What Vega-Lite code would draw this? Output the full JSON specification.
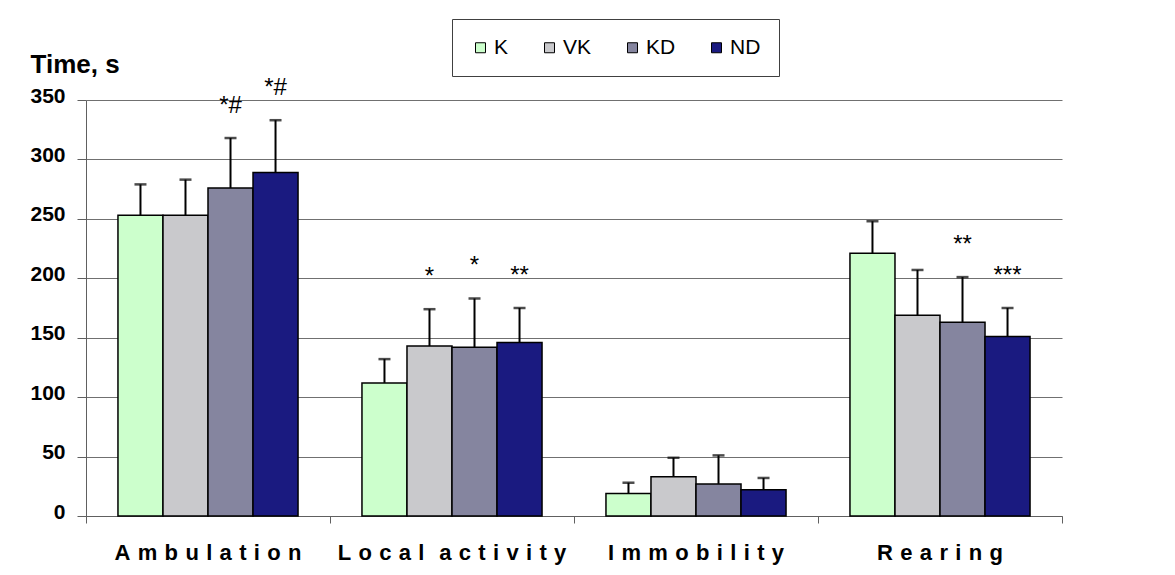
{
  "$schema": "https://vega.github.io/schema/vega-lite/v6.json",
  "autosize": {"type": "none"},
  "padding": {"left": 86, "top": 100, "right": 113, "bottom": 59},
  "width": 976,
  "height": 416,
  "background": "white",
  "config": {
    "view": {"stroke": null},
    "font": "Arial, Liberation Sans, sans-serif"
  },
  "data": {
    "values": [
      {"category": "Ambulation", "group": "K", "value": 253, "upper": 279, "sig": ""},
      {"category": "Ambulation", "group": "VK", "value": 253, "upper": 283, "sig": ""},
      {"category": "Ambulation", "group": "KD", "value": 276, "upper": 318, "sig": "*#"},
      {"category": "Ambulation", "group": "ND", "value": 289, "upper": 333, "sig": "*#"},
      {"category": "Local activity", "group": "K", "value": 112, "upper": 132, "sig": ""},
      {"category": "Local activity", "group": "VK", "value": 143, "upper": 174, "sig": "*"},
      {"category": "Local activity", "group": "KD", "value": 142, "upper": 183, "sig": "*"},
      {"category": "Local activity", "group": "ND", "value": 146, "upper": 175, "sig": "**"},
      {"category": "Immobility", "group": "K", "value": 19, "upper": 28, "sig": ""},
      {"category": "Immobility", "group": "VK", "value": 33, "upper": 49, "sig": ""},
      {"category": "Immobility", "group": "KD", "value": 27, "upper": 51, "sig": ""},
      {"category": "Immobility", "group": "ND", "value": 22, "upper": 32, "sig": ""},
      {"category": "Rearing", "group": "K", "value": 221, "upper": 248, "sig": ""},
      {"category": "Rearing", "group": "VK", "value": 169, "upper": 207, "sig": ""},
      {"category": "Rearing", "group": "KD", "value": 163, "upper": 201, "sig": "**"},
      {"category": "Rearing", "group": "ND", "value": 151, "upper": 175, "sig": "***"}
    ]
  },
  "encoding": {
    "x": {
      "field": "category",
      "type": "nominal",
      "sort": ["Ambulation", "Local activity", "Immobility", "Rearing"],
      "scale": {"paddingInner": 0, "paddingOuter": 0},
      "axis": {
        "title": null,
        "labelAngle": 0,
        "labelFontSize": 22,
        "labelFontWeight": "bold",
        "labelColor": "black",
        "labelExpr": "replace(join(split(datum.label, ''), '\u2004'), '\u2004 \u2004', '\u2004\u2004')",
        "labelBaseline": "alphabetic",
        "labelPadding": 36,
        "labelLimit": 0,
        "tickSize": 7,
        "tickColor": "#606060",
        "domainColor": "#606060",
        "bandPosition": 1,
        "tickExtra": true
      }
    },
    "xOffset": {
      "field": "group",
      "type": "nominal",
      "sort": ["K", "VK", "KD", "ND"],
      "scale": {"paddingInner": 0, "paddingOuter": 0.71}
    }
  },
  "layer": [
    {
      "mark": {"type": "bar", "stroke": "black", "strokeWidth": 1.5},
      "encoding": {
        "y": {
          "field": "value",
          "type": "quantitative",
          "scale": {"domain": [0, 350], "nice": false},
          "axis": {
            "values": [0, 50, 100, 150, 200, 250, 300, 350],
            "title": "Time, s",
            "titleAngle": 0,
            "titleAlign": "left",
            "titleBaseline": "alphabetic",
            "titleX": -56,
            "titleY": -28,
            "titleFontSize": 26,
            "titleFontWeight": "bold",
            "titleColor": "black",
            "labelFontSize": 21,
            "labelFontWeight": "bold",
            "labelColor": "black",
            "labelPadding": 12,
            "labelOffset": -4,
            "tickSize": 9,
            "tickColor": "#606060",
            "domainColor": "#606060",
            "grid": true,
            "gridColor": "#707070",
            "gridWidth": 1
          }
        },
        "color": {
          "field": "group",
          "type": "nominal",
          "sort": ["K", "VK", "KD", "ND"],
          "scale": {
            "domain": ["K", "VK", "KD", "ND"],
            "range": ["#ccffcc", "#c9c9cc", "#85859f", "#1a1a80"]
          },
          "legend": {
            "title": null,
            "orient": "none",
            "direction": "horizontal",
            "legendX": 366,
            "legendY": -81,
            "padding": 18,
            "strokeColor": "#404040",
            "fillColor": "white",
            "symbolType": "square",
            "symbolSize": 100,
            "symbolStrokeColor": "black",
            "symbolStrokeWidth": 1,
            "symbolOpacity": 1,
            "labelFontSize": 21,
            "labelColor": "black",
            "labelOffset": 3,
            "columnPadding": 30
          }
        }
      }
    },
    {
      "mark": {"type": "rule", "color": "black", "strokeWidth": 2},
      "encoding": {
        "y": {"field": "value", "type": "quantitative"},
        "y2": {"field": "upper"}
      }
    },
    {
      "mark": {"type": "tick", "color": "black", "size": 12, "thickness": 2.5},
      "encoding": {
        "y": {"field": "upper", "type": "quantitative"}
      }
    },
    {
      "transform": [{"filter": "datum.sig != ''"}],
      "mark": {"type": "text", "fontSize": 24, "color": "black", "baseline": "middle", "dy": -32},
      "encoding": {
        "y": {"field": "upper", "type": "quantitative"},
        "text": {"field": "sig"}
      }
    }
  ]
}
